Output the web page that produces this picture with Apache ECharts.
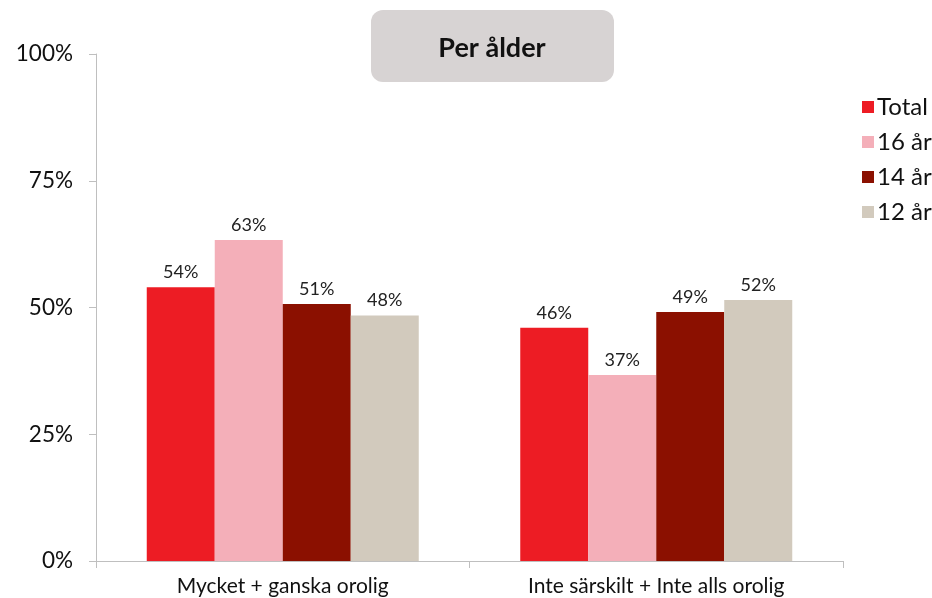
<!DOCTYPE html>
<html>
<head>
<meta charset="utf-8">
<script src="https://cdn.jsdelivr.net/npm/echarts@6/dist/echarts.min.js"></script>
<style>
  html, body { margin: 0; padding: 0; background: #fff; }
  #chart { width: 932px; height: 598px; }
</style>
</head>
<body>
<div id="chart"></div>
<script>
// kategorier och serier
const categories = ['Mycket + ganska orolig', 'Inte särskilt + Inte alls orolig']
const seriesNames = ['Total', '16 år', '14 år', '12 år']
const total = [54.0, 46.0]
const age16 = [63.3, 36.7]
const age14 = [50.7, 49.1]
const age12 = [48.4, 51.5]
const yTicks = [0, 25, 50, 75, 100]

const colors = ['#ED1C24', '#F4AFB9', '#8B1000', '#D2CABD']
const font = 'Lato, "Open Sans", sans-serif'

const chart = echarts.init(document.getElementById('chart'))
const mkSeries = (name, data, i) => ({
  name,
  type: 'bar',
  data,
  barWidth: 68,
  barGap: '0%',
  itemStyle: { color: colors[i] },
  label: {
    show: true,
    position: 'top',
    distance: 6,
    formatter: p => Math.round(p.value) + '%',
    color: '#222',
    fontFamily: font,
    fontSize: 18
  }
})

chart.setOption({
  animation: false,
  grid: { left: 96, right: 89, top: 54, bottom: 37 },
  legend: {
    orient: 'vertical',
    left: 857,
    top: 90,
    itemWidth: 12,
    itemHeight: 12,
    itemGap: 11,
    icon: 'rect',
    textStyle: { fontFamily: font, fontSize: 24, color: '#111', padding: [0, 0, 0, -2] },
    data: seriesNames
  },
  xAxis: {
    type: 'category',
    data: categories,
    axisLine: { lineStyle: { color: '#BFBFBF', width: 1 } },
    axisTick: { show: true, length: 7, lineStyle: { color: '#BFBFBF' } },
    axisLabel: { fontFamily: font, fontSize: 21, color: '#111', margin: 15 }
  },
  yAxis: {
    type: 'value',
    min: yTicks[0],
    max: yTicks[yTicks.length - 1],
    interval: 25,
    axisLine: { show: true, lineStyle: { color: '#BFBFBF', width: 1 } },
    axisTick: { show: true, length: 7, lineStyle: { color: '#BFBFBF' } },
    splitLine: { show: false },
    axisLabel: { formatter: '{value}%', fontFamily: font, fontSize: 22.5, color: '#111', margin: 23 }
  },
  graphic: [
    {
      type: 'rect',
      shape: { x: 371, y: 10, width: 243, height: 72, r: 12 },
      style: { fill: '#D7D3D3' }
    },
    {
      type: 'text',
      x: 492,
      y: 48,
      style: {
        text: 'Per ålder',
        fontFamily: font,
        fontSize: 27,
        fontWeight: 'bold',
        fill: '#111',
        align: 'center',
        verticalAlign: 'middle'
      }
    }
  ],
  series: [
    mkSeries(seriesNames[0], total, 0),
    mkSeries(seriesNames[1], age16, 1),
    mkSeries(seriesNames[2], age14, 2),
    mkSeries(seriesNames[3], age12, 3)
  ]
})
</script>
</body>
</html>
